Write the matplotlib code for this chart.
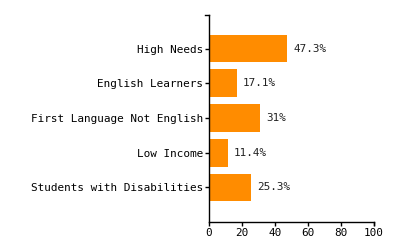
import matplotlib
matplotlib.use("Agg")
import matplotlib.pyplot as plt

categories = ["High Needs", "English Learners", "First Language Not English",
              "Low Income", "Students with Disabilities"]
values = [47.3, 17.1, 31, 11.4, 25.3]
labels = ["47.3%", "17.1%", "31%", "11.4%", "25.3%"]
xticks = [0, 20, 40, 60, 80, 100]

plt.rcParams['font.family'] = ['DejaVu Sans Mono']
fig = plt.figure(figsize=(4, 2.5), dpi=100)
ax = fig.add_axes([209/400, 1 - 221.5/250, 165/400, 207/250])

pos = list(range(len(categories)))
ax.barh(pos, values, height=0.8, color="#FF8C00")
for p, v, t in zip(pos, values, labels):
    ax.annotate(t, (v, p), xytext=(4.3, 0), textcoords="offset points",
                va="center", ha="left", fontsize=7.9, color="#222222")

ax.set_xlim(0, 100)
ax.set_ylim(4.98, -0.98)
ax.set_yticks(pos)
ax.set_yticklabels(categories)
ax.set_xticks(xticks)
ax.set_xticklabels([str(x) for x in xticks])
for s in ["top", "right"]:
    ax.spines[s].set_visible(False)
for s in ["left", "bottom"]:
    ax.spines[s].set_linewidth(1.0)
ax.tick_params(axis="both", length=3.0, width=1.0, labelsize=7.9, pad=1.5,
               colors="#000000")
ax.tick_params(axis="y", pad=1)
# outer end ticks like a d3 domain path
ax.plot([-2.4, 0], [-0.98, -0.98], color="black", lw=1.0, clip_on=False)
ax.plot([100, 100], [4.98, 4.98 + 0.09], color="black", lw=1.0, clip_on=False)
fig.savefig("out.png", dpi=100)
